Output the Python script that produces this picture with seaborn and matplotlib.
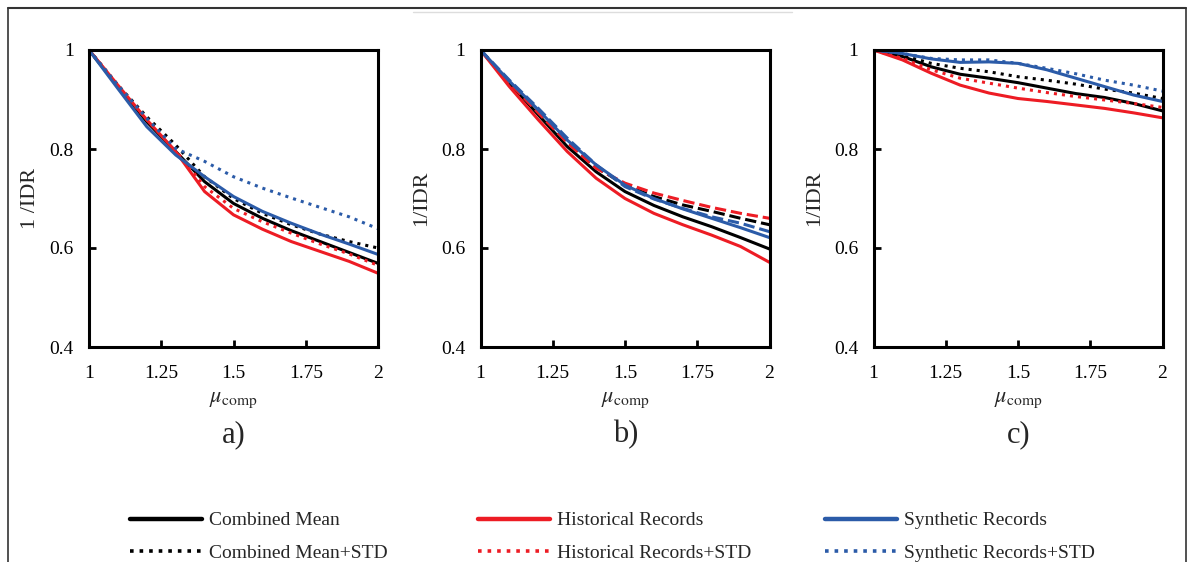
import matplotlib
matplotlib.use('Agg')
import matplotlib.pyplot as plt
import seaborn as sns
import pandas as pd
from matplotlib.lines import Line2D

# x values (mu_comp)
mu = [1.0, 1.1, 1.2, 1.3, 1.4, 1.5, 1.6, 1.7, 1.8, 1.9, 2.0]

# panel a
a_comb_mean = [1.0, 0.926, 0.855, 0.795, 0.734, 0.690, 0.660, 0.635, 0.613, 0.591, 0.569]
a_comb_std = [1.0, 0.929, 0.865, 0.808, 0.744, 0.700, 0.670, 0.647, 0.628, 0.613, 0.600]
a_hist_mean = [1.0, 0.929, 0.859, 0.795, 0.714, 0.667, 0.638, 0.613, 0.593, 0.573, 0.549]
a_hist_std = [1.0, 0.929, 0.859, 0.797, 0.724, 0.680, 0.653, 0.630, 0.608, 0.588, 0.565]
a_syn_mean = [1.0, 0.922, 0.845, 0.788, 0.744, 0.704, 0.674, 0.650, 0.628, 0.608, 0.587]
a_syn_std = [1.0, 0.929, 0.862, 0.801, 0.775, 0.744, 0.721, 0.701, 0.682, 0.663, 0.639]

# panel b
b_comb_mean = [1.0, 0.933, 0.869, 0.805, 0.754, 0.714, 0.686, 0.663, 0.643, 0.621, 0.598]
b_comb_std = [1.0, 0.935, 0.875, 0.815, 0.764, 0.727, 0.704, 0.687, 0.674, 0.660, 0.647]
b_hist_mean = [1.0, 0.926, 0.859, 0.795, 0.741, 0.700, 0.670, 0.647, 0.626, 0.603, 0.571]
b_hist_std = [1.0, 0.934, 0.873, 0.813, 0.761, 0.731, 0.711, 0.696, 0.682, 0.670, 0.660]
b_syn_mean = [1.0, 0.937, 0.879, 0.818, 0.768, 0.727, 0.700, 0.679, 0.660, 0.641, 0.621]
b_syn_std = [1.0, 0.939, 0.882, 0.822, 0.768, 0.724, 0.699, 0.680, 0.663, 0.650, 0.633]

# panel c
c_comb_mean = [1.0, 0.987, 0.966, 0.951, 0.943, 0.934, 0.923, 0.912, 0.904, 0.892, 0.877]
c_comb_std = [1.0, 0.989, 0.973, 0.963, 0.956, 0.946, 0.939, 0.931, 0.921, 0.913, 0.902]
c_hist_mean = [1.0, 0.980, 0.953, 0.929, 0.913, 0.902, 0.896, 0.889, 0.882, 0.873, 0.863]
c_hist_std = [1.0, 0.983, 0.960, 0.943, 0.933, 0.923, 0.914, 0.906, 0.899, 0.892, 0.884]
c_syn_mean = [1.0, 0.993, 0.982, 0.975, 0.976, 0.973, 0.960, 0.943, 0.926, 0.909, 0.896]
c_syn_std = [1.0, 0.993, 0.983, 0.980, 0.980, 0.973, 0.963, 0.952, 0.939, 0.929, 0.917]

x_ticks = [1, 1.25, 1.5, 1.75, 2]
x_tick_labels = ['1', '1.25', '1.5', '1.75', '2']
y_ticks = [0.4, 0.6, 0.8, 1.0]
y_tick_labels = ['0.4', '0.6', '0.8', '1']
series_names = ['Combined Mean', 'Combined Mean+STD', 'Historical Records',
                'Historical Records+STD', 'Synthetic Records', 'Synthetic Records+STD']

BLACK = '#000000'
RED = '#ED1C24'
BLUE = '#2B5BA8'

sns.set_style('white')
plt.rcParams['font.family'] = ['Liberation Serif', 'DejaVu Serif']
plt.rcParams['mathtext.fontset'] = 'stix'

fig = plt.figure(figsize=(11.89, 5.62), dpi=100)

W, H = 1189, 562
panels = [
    (89, 'a)', '1 /IDR', [a_comb_mean, a_comb_std, a_hist_mean, a_hist_std, a_syn_mean, a_syn_std], ':'),
    (480.5, 'b)', '1/IDR', [b_comb_mean, b_comb_std, b_hist_mean, b_hist_std, b_syn_mean, b_syn_std], '--'),
    (873.5, 'c)', '1/IDR', [c_comb_mean, c_comb_std, c_hist_mean, c_hist_std, c_syn_mean, c_syn_std], ':'),
]
colors = [BLACK, BLACK, RED, RED, BLUE, BLUE]
lw = 2.2

for left, tag, ylab, series, std_style in panels:
    ax = fig.add_axes([left / W, 1 - 347 / H, 289 / W, 297 / H])
    for vals, col, name in zip(series, colors, series_names):
        df = pd.DataFrame({'mu': mu, 'val': vals})
        ls = std_style if 'STD' in name else '-'
        sns.lineplot(data=df, x='mu', y='val', ax=ax, color=col, linestyle=ls,
                     linewidth=lw, legend=False)
    ax.set_xlim(1, 2)
    ax.set_ylim(0.4, 1.0)
    ax.set_xticks(x_ticks)
    ax.set_xticklabels(x_tick_labels)
    ax.set_yticks(y_ticks)
    ax.set_yticklabels(y_tick_labels)
    ax.tick_params(direction='in', length=5, width=2, labelsize=14, colors='black',
                   left=True, bottom=True)
    ax.tick_params(axis='x', pad=13)
    ax.tick_params(axis='y', pad=11)
    for sp in ax.spines.values():
        sp.set_linewidth(2.2)
        sp.set_color('black')
        sp.set_visible(True)
    ax.set_xlabel(r'$\mu_{\mathrm{comp}}$', fontsize=16, labelpad=6)
    ax.set_ylabel(ylab, fontsize=16, labelpad=7)
    fig.text((left + 145) / W, 1 - 435 / H, tag, fontsize=22, ha='center', va='center')

# legend: three column groups
legend_x = [130, 478, 825]
for i, x0 in enumerate(legend_x):
    handles = [Line2D([], [], color=colors[2 * i], linewidth=3.2, linestyle='-'),
               Line2D([], [], color=colors[2 * i + 1], linewidth=2.6, linestyle=':')]
    fig.legend(handles, series_names[2 * i:2 * i + 2], loc='center left',
               bbox_to_anchor=(x0 / W, 1 - 537 / H), frameon=False, fontsize=14,
               handlelength=3.7, handletextpad=0.35, labelspacing=0.78,
               borderpad=0, borderaxespad=0)

# outer frame of the original figure
fig.add_artist(Line2D([8 / W, 1186 / W], [1 - 8 / H, 1 - 8 / H], color='#333333', linewidth=1.5))
fig.add_artist(Line2D([8 / W, 8 / W], [0, 1 - 8 / H], color='#333333', linewidth=1.2))
fig.add_artist(Line2D([1186 / W, 1186 / W], [0, 1 - 8 / H], color='#333333', linewidth=1.2))
fig.add_artist(Line2D([413 / W, 792 / W], [1 - 12 / H, 1 - 12 / H], color='#dddddd', linewidth=1.0))

fig.savefig('out.png', dpi=100)
